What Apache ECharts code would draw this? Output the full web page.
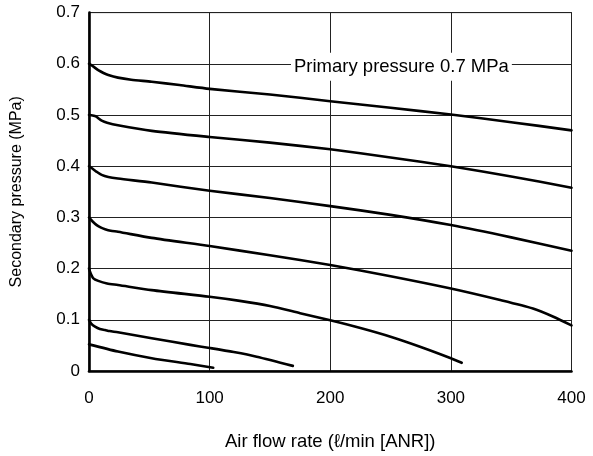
<!DOCTYPE html>
<html>
<head>
<meta charset="utf-8">
<script src="https://cdn.jsdelivr.net/npm/echarts@6/dist/echarts.min.js"></script>
<style>
html,body{margin:0;padding:0;background:#fff;}
#chart{width:593px;height:456px;}
</style>
</head>
<body>
<div id="chart"></div>
<script>
// Air flow rate (ℓ/min [ANR]) and secondary pressure (MPa) per curve
const flow1 = [0, 1, 4, 8, 12, 16, 24, 35, 52, 75, 100, 150, 200, 250, 300, 350, 400];
const pres1 = [0.600, 0.599, 0.594, 0.587, 0.582, 0.578, 0.573, 0.569, 0.565, 0.5585, 0.551, 0.540, 0.527, 0.514, 0.501, 0.486, 0.470];

const flow2 = [0, 3, 6, 8, 10.5, 15, 24, 52, 100, 150, 200, 250, 300, 350, 400];
const pres2 = [0.500, 0.499, 0.497, 0.493, 0.489, 0.485, 0.480, 0.469, 0.457, 0.446, 0.433, 0.417, 0.400, 0.380, 0.358];

const flow3 = [0, 3, 6.4, 10.5, 16, 24, 52, 100, 150, 200, 250, 300, 350, 400];
const pres3 = [0.400, 0.395, 0.389, 0.383, 0.379, 0.376, 0.368, 0.352, 0.338, 0.322, 0.305, 0.285, 0.261, 0.235];

const flow4 = [0, 3, 6.4, 10, 13.3, 18, 24, 52, 100, 150, 200, 250, 300, 340, 368, 385, 400];
const pres4 = [0.300, 0.292, 0.285, 0.280, 0.277, 0.274, 0.272, 0.260, 0.244, 0.226, 0.207, 0.185, 0.161, 0.139, 0.122, 0.106, 0.089];

const flow5 = [0, 1.5, 3.6, 7.7, 15, 24, 52, 100, 125, 150, 175, 200, 225, 250, 275, 300, 309];
const pres5 = [0.200, 0.190, 0.181, 0.176, 0.171, 0.168, 0.158, 0.145, 0.137, 0.127, 0.113, 0.099, 0.084, 0.067, 0.047, 0.025, 0.016];

const flow6 = [0, 2, 5, 9, 13.3, 17, 24, 52, 84, 100, 120, 139, 169];
const pres6 = [0.100, 0.092, 0.0865, 0.082, 0.080, 0.078, 0.0756, 0.064, 0.051, 0.045, 0.037, 0.028, 0.010];

const flow7 = [0, 24, 52, 84, 103];
const pres7 = [0.052, 0.038, 0.025, 0.0137, 0.0065];

const xTicks = [0, 100, 200, 300, 400];
const yTicks = [0, 0.1, 0.2, 0.3, 0.4, 0.5, 0.6, 0.7];
const annotationText = 'Primary pressure 0.7 MPa';
const annotationAt = [259, 0.6];

const curves = [
  [flow1, pres1], [flow2, pres2], [flow3, pres3], [flow4, pres4],
  [flow5, pres5], [flow6, pres6], [flow7, pres7]
];

const FONT = "'Liberation Sans', Arial, sans-serif";

const series = curves.map((c, i) => {
  const s = {
    type: 'line',
    data: c[0].map((x, j) => [x, c[1][j]]),
    showSymbol: false,
    smooth: 0.25,
    lineStyle: { color: '#000', width: 2.6, cap: 'round', join: 'round' },
    silent: true,
    z: 5
  };
  if (i === 0) {
    s.markPoint = {
      symbol: 'circle',
      symbolSize: 0,
      silent: true,
      data: [{ coord: annotationAt }],
      label: {
        show: true,
        position: 'inside',
        formatter: annotationText,
        color: '#000',
        fontFamily: FONT,
        fontSize: 18.5,
        backgroundColor: '#fff',
        padding: [5, 3, 4, 3],
        offset: [0, 3]
      }
    };
  }
  return s;
});

const chart = echarts.init(document.getElementById('chart'), null, { renderer: 'canvas' });
chart.setOption({
  animation: false,
  backgroundColor: '#fff',
  grid: {
    left: 89, right: 21.5, top: 12.6, bottom: 85,
    show: true, borderColor: '#000', borderWidth: 1
  },
  xAxis: {
    type: 'value',
    min: xTicks[0], max: xTicks[xTicks.length - 1], interval: 100,
    name: 'Air flow rate (ℓ/min [ANR])',
    nameLocation: 'middle',
    nameGap: 61,
    nameTextStyle: { color: '#000', fontSize: 18.5, fontFamily: FONT },
    axisLine: { show: true, onZero: false, lineStyle: { color: '#000', width: 2.6 } },
    axisTick: { show: false },
    axisLabel: { color: '#000', fontSize: 17, fontFamily: FONT, margin: 19 },
    splitLine: { show: true, lineStyle: { color: '#222', width: 1 } }
  },
  yAxis: {
    type: 'value',
    min: yTicks[0], max: yTicks[yTicks.length - 1], interval: 0.1,
    name: 'Secondary pressure (MPa)',
    nameLocation: 'middle',
    nameGap: 64,
    nameTextStyle: { color: '#000', fontSize: 16, fontFamily: FONT },
    axisLine: { show: true, onZero: false, lineStyle: { color: '#000', width: 2.6 } },
    axisTick: { show: false },
    axisLabel: {
      color: '#000', fontSize: 17, fontFamily: FONT, margin: 9,
      formatter: v => (Math.abs(v) < 1e-9 ? '0' : v.toFixed(1))
    },
    splitLine: { show: true, lineStyle: { color: '#222', width: 1 } }
  },
  series: series
});
</script>
</body>
</html>
